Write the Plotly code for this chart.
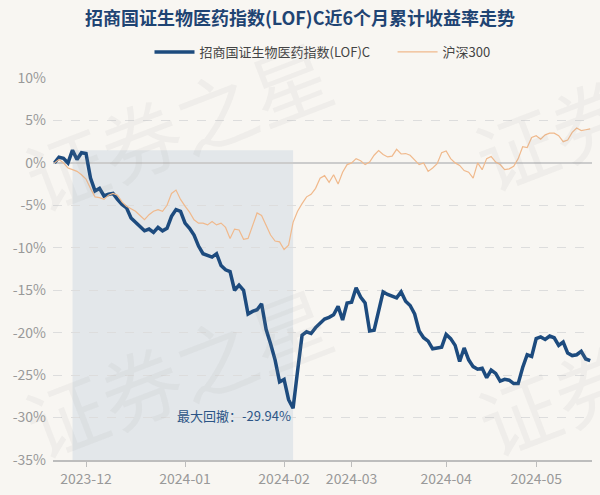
import pandas as pd
import plotly.graph_objects as go

# trading days (plus the year-end NAV on 2023-12-31)
holidays = ['2024-01-01', '2024-02-09', '2024-02-12', '2024-02-13', '2024-02-14',
            '2024-02-15', '2024-02-16', '2024-04-04', '2024-04-05',
            '2024-05-01', '2024-05-02', '2024-05-03']
days = pd.bdate_range('2023-11-22', '2024-05-22')
days = days[~days.strftime('%Y-%m-%d').isin(holidays)]
days = days.append(pd.DatetimeIndex(['2023-12-31'])).sort_values()
dates = list(days.strftime('%Y-%m-%d'))

fund_name = '招商国证生物医药指数(LOF)C'
fund = [0.0, 0.67, 0.55, 0.0, 1.5, 0.4, 1.2, 1.1, -1.8, -3.3,
        -3.0, -3.9, -3.7, -3.6, -4.3, -4.9, -5.3, -6.5, -7.0, -7.5,
        -8.0, -7.8, -8.2, -7.6, -8.0, -7.7, -6.3, -5.5, -5.7, -7.1,
        -7.7, -8.5, -9.8, -10.7, -10.9, -11.1, -10.7, -12.1, -12.6, -12.8,
        -15.0, -14.4, -15.0, -17.8, -17.5, -17.3, -16.6, -19.6, -21.3, -23.2,
        -25.8, -25.5, -27.9, -28.9, -24.5, -20.3, -19.9, -20.1, -19.4, -18.9,
        -18.4, -18.2, -17.9, -16.9, -18.5, -16.5, -16.4, -14.7, -15.8, -16.5,
        -19.8, -19.7, -17.5, -15.2, -15.5, -15.7, -15.9, -15.2, -16.3, -16.8,
        -17.8, -19.8, -20.6, -21.0, -21.9, -21.8, -21.7, -20.2, -20.7, -21.5,
        -23.4, -21.8, -23.2, -24.0, -24.3, -24.2, -25.3, -24.4, -24.8, -25.7,
        -25.5, -25.6, -26.0, -26.0, -24.1, -22.6, -22.8, -20.7, -20.5, -20.8,
        -20.4, -20.6, -21.5, -21.1, -22.4, -22.7, -22.6, -22.2, -23.1, -23.3]

hs300 = [0.0, 0.4, 0.0, -0.6, -0.8, -1.0, -1.4, -1.9, -3.0, -4.0,
         -4.1, -4.3, -3.8, -3.6, -3.8, -4.6, -5.1, -5.4, -5.7, -6.2,
         -6.7, -6.1, -5.7, -5.5, -5.7, -5.0, -3.6, -3.2, -4.3, -5.1,
         -5.8, -6.7, -7.1, -7.1, -7.3, -6.9, -7.3, -7.1, -7.6, -8.9,
         -7.8, -7.9, -9.0, -8.9, -7.3, -5.9, -6.2, -7.4, -8.5, -9.2,
         -9.3, -10.2, -9.7, -7.0, -5.7, -4.8, -4.0, -3.7, -3.0, -1.8,
         -1.5, -2.3, -1.4, -2.5, -1.1, -0.2, 0.0, 0.5, 0.25, -0.2,
         0.1, 0.9, 1.45, 1.0, 0.7, 0.8, 1.6, 1.05, 1.1, 0.9,
         0.3, -0.2, 0.0, -1.0, -0.6, -0.1, 1.2, 1.4, 0.5, 0.0,
         -0.3, -0.9, -1.1, -1.8, 0.0, -0.8, 0.5, 0.75, 0.1, -0.2,
         -0.8, -0.7, -0.4, 0.5, 1.9, 1.8, 3.0, 3.2, 2.8, 3.3,
         3.5, 3.5, 3.2, 2.5, 2.7, 3.6, 4.1, 3.8, 3.9, 4.0]

assert len(dates) == len(fund) == len(hs300), (len(dates), len(fund), len(hs300))

tick_dates = ['2023-12-01', '2024-01-02', '2024-02-01', '2024-03-01', '2024-04-01', '2024-05-06']
tick_text = ['2023-12', '2024-01', '2024-02', '2024-03', '2024-04', '2024-05']
y_ticks = [10, 5, 0, -5, -10, -15, -20, -25, -30, -35]
y_text = ['10%', '5%', '0%', '-5%', '-10%', '-15%', '-20%', '-25%', '-30%', '-35%']
max_dd_text = '最大回撤：-29.94%'

# max drawdown window
peak_i = fund.index(max(fund[:54]))
trough_i = fund.index(min(fund))

bg = '#f8f6f2'
font = 'Noto Sans CJK SC'

fig = go.Figure()
fig.add_trace(go.Scatter(x=dates, y=fund, mode='lines',
                         name=fund_name + '\u00a0' * 6,
                         line=dict(color='#1d4b7e', width=3.5)))
fig.add_trace(go.Scatter(x=dates, y=hs300, mode='lines', name='沪深300',
                         line=dict(color='#f0b98c', width=1.2)))

fig.add_shape(type='rect', xref='x', yref='y', x0=dates[peak_i], x1=dates[trough_i],
              y0=-35, y1=fund[peak_i], fillcolor='#e3e7ea', line_width=0, layer='below')

fig.add_annotation(x=dates[trough_i], y=-29.7, text=max_dd_text, showarrow=False,
                   xanchor='right', yanchor='middle',
                   font=dict(family=font, size=13, color='#2c5586'))

# watermark (pixel centres converted to plot-area fractions)
for wx, wy in [(177, 123), (177, 370), (627, 103), (630, 368)]:
    fig.add_annotation(x=(wx - 53) / 539, y=(460 - wy) / 382, xref='paper', yref='paper',
                       xanchor='center', yanchor='middle',
                       text='证券之星', showarrow=False, textangle=-21,
                       font=dict(family=font, size=80, color='rgba(150,150,150,0.09)'))

fig.update_layout(
    width=600, height=495,
    paper_bgcolor=bg, plot_bgcolor=bg,
    margin=dict(l=53, r=8, t=78, b=35),
    font=dict(family=font, color='#333333'),
    title=dict(text='<b>招商国证生物医药指数(LOF)C近6个月累计收益率走势</b>',
               x=0.5, xanchor='center', y=1 - 19 / 495, yanchor='middle',
               font=dict(size=18, color='#1f4473', family=font)),
    legend=dict(orientation='h', x=0.5, xanchor='center', y=1.068, yanchor='middle',
                font=dict(size=13, color='#444444'), bgcolor='rgba(0,0,0,0)',
                itemwidth=40, tracegroupgap=0),
    showlegend=True,
)
fig.update_xaxes(type='category', range=[-0.33, 119.4],
                 tickvals=tick_dates, ticktext=tick_text,
                 showgrid=False, showline=True, linecolor='#bdbdbd', linewidth=1.5,
                 ticks='outside', ticklen=5, tickcolor='#bdbdbd',
                 tickfont=dict(size=14, color='#999999'))
fig.update_yaxes(range=[-35, 10], tickvals=y_ticks, ticktext=y_text,
                 showgrid=True, gridcolor='#dddddd', griddash='dash', gridwidth=1,
                 zeroline=True, zerolinecolor='#cccccc', zerolinewidth=2,
                 tickfont=dict(size=14, color='#999999'), ticks='', ticklabelstandoff=6)

fig.write_html('out.html', config={'displayModeBar': False},
               post_script="document.body.style.margin='0';")
